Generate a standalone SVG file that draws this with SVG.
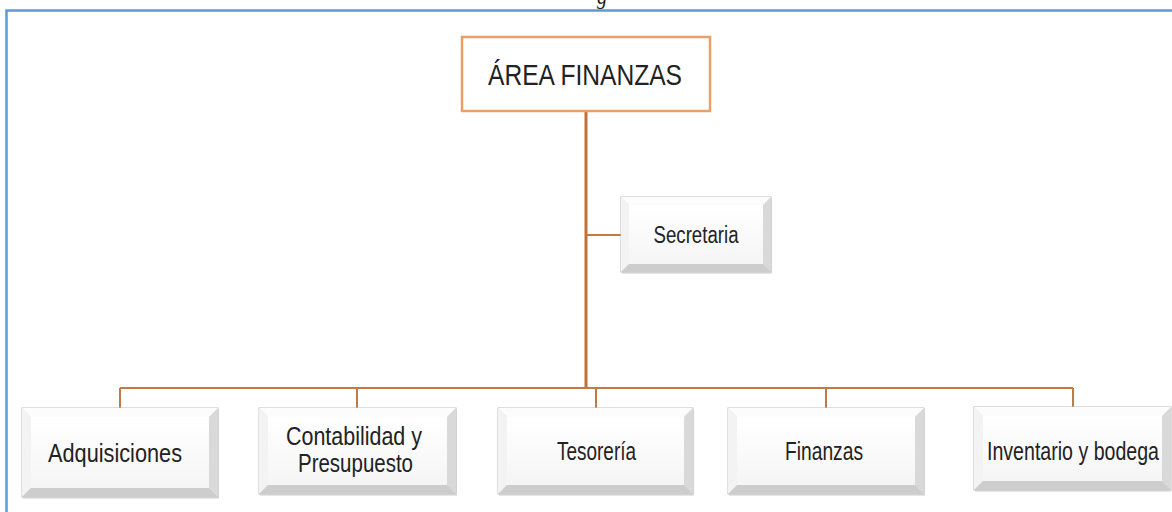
<svg xmlns="http://www.w3.org/2000/svg" width="1172" height="512" viewBox="0 0 1172 512">
<style>
.lbl{font-family:"Liberation Sans",Arial,sans-serif;font-weight:400;fill:#222222;text-anchor:middle}
.conn{fill:none;stroke:#c27a45;stroke-width:2}
.trunk{fill:none;stroke:#bf7038;stroke-width:3}
.sh{fill:#d6d6d6;opacity:.6}
.out{fill:#e4e4e4;stroke:#bdbdbd;stroke-width:1}
.bt{fill:#fcfcfc}
.bl{fill:#f3f3f3}
.br{fill:#d9d9d9}
.bb{fill:#cdcdcd}
.face{fill:url(#gFace)}
</style>
<defs>
<linearGradient id="gFace" x1="0" y1="0" x2="0" y2="1">
<stop offset="0" stop-color="#ffffff"/>
<stop offset="1" stop-color="#f5f5f5"/>
</linearGradient>
</defs>
<rect width="1172" height="512" fill="#ffffff"/>
<text x="597" y="4" font-family="Liberation Serif,serif" font-style="italic" font-size="20" fill="#222">g</text>
<path d="M6.5,512 V10.5 H1172" fill="none" stroke="#5b9bd5" stroke-width="2.5"/>

<g id="connectors">
<path class="trunk" d="M586,111 V388"/>
<path class="conn" d="M586,235 H621"/>
<path class="conn" d="M120,388 H1073"/>
<path class="conn" d="M120,388 V408 M357,388 V408 M596,388 V408 M826,388 V408 M1073,388 V407"/>
</g>

<g id="area-finanzas">
<rect x="462" y="37" width="248" height="74" fill="#ffffff" stroke="#e8a06a" stroke-width="2.5"/>
<text class="lbl" x="585" y="85" font-size="30" textLength="194" lengthAdjust="spacingAndGlyphs">ÁREA FINANZAS</text>
</g>

<g id="secretaria">
<rect class="sh" x="622" y="199" width="150" height="75"/>
<rect class="out" x="621" y="197" width="150" height="75"/>
<polygon class="bt" points="621,197 771,197 763,205 629,205"/>
<polygon class="bl" points="621,197 629,205 629,264 621,272"/>
<polygon class="br" points="771,197 771,272 763,264 763,205"/>
<polygon class="bb" points="621,272 629,264 763,264 771,272"/>
<rect class="face" x="629" y="205" width="134" height="59"/>
<text class="lbl" x="696" y="243" font-size="23" textLength="85" lengthAdjust="spacingAndGlyphs">Secretaria</text>
</g>

<g id="adquisiciones">
<rect class="sh" x="23" y="410" width="196" height="89"/>
<rect class="out" x="22" y="408" width="196" height="89"/>
<polygon class="bt" points="22,408 218,408 209,417 31,417"/>
<polygon class="bl" points="22,408 31,417 31,488 22,497"/>
<polygon class="br" points="218,408 218,497 209,488 209,417"/>
<polygon class="bb" points="22,497 31,488 209,488 218,497"/>
<rect class="face" x="31" y="417" width="178" height="71"/>
<text class="lbl" x="115" y="462" font-size="25" textLength="134" lengthAdjust="spacingAndGlyphs">Adquisiciones</text>
</g>

<g id="contabilidad">
<rect class="sh" x="260" y="410" width="197" height="86"/>
<rect class="out" x="259" y="408" width="197" height="86"/>
<polygon class="bt" points="259,408 456,408 447,417 268,417"/>
<polygon class="bl" points="259,408 268,417 268,485 259,494"/>
<polygon class="br" points="456,408 456,494 447,485 447,417"/>
<polygon class="bb" points="259,494 268,485 447,485 456,494"/>
<rect class="face" x="268" y="417" width="179" height="68"/>
<text class="lbl" x="354" y="445" font-size="25" textLength="136" lengthAdjust="spacingAndGlyphs">Contabilidad y</text>
<text class="lbl" x="355.5" y="472" font-size="25" textLength="115" lengthAdjust="spacingAndGlyphs">Presupuesto</text>
</g>

<g id="tesoreria">
<rect class="sh" x="499" y="410" width="195" height="86"/>
<rect class="out" x="498" y="408" width="195" height="86"/>
<polygon class="bt" points="498,408 693,408 684,417 507,417"/>
<polygon class="bl" points="498,408 507,417 507,485 498,494"/>
<polygon class="br" points="693,408 693,494 684,485 684,417"/>
<polygon class="bb" points="498,494 507,485 684,485 693,494"/>
<rect class="face" x="507" y="417" width="177" height="68"/>
<text class="lbl" x="596.5" y="460" font-size="25" textLength="79" lengthAdjust="spacingAndGlyphs">Tesorería</text>
</g>

<g id="finanzas">
<rect class="sh" x="729" y="410" width="196" height="86"/>
<rect class="out" x="728" y="408" width="196" height="86"/>
<polygon class="bt" points="728,408 924,408 915,417 737,417"/>
<polygon class="bl" points="728,408 737,417 737,485 728,494"/>
<polygon class="br" points="924,408 924,494 915,485 915,417"/>
<polygon class="bb" points="728,494 737,485 915,485 924,494"/>
<rect class="face" x="737" y="417" width="178" height="68"/>
<text class="lbl" x="824" y="460" font-size="25" textLength="78" lengthAdjust="spacingAndGlyphs">Finanzas</text>
</g>

<g id="inventario">
<rect class="sh" x="975" y="409" width="196" height="83"/>
<rect class="out" x="974" y="407" width="197" height="83"/>
<polygon class="bt" points="974,407 1171,407 1162,416 983,416"/>
<polygon class="bl" points="974,407 983,416 983,481 974,490"/>
<polygon class="br" points="1171,407 1171,490 1162,481 1162,416"/>
<polygon class="bb" points="974,490 983,481 1162,481 1171,490"/>
<rect class="face" x="983" y="416" width="179" height="65"/>
<text class="lbl" x="1073" y="460" font-size="25" textLength="172" lengthAdjust="spacingAndGlyphs">Inventario y bodega</text>
</g>
</svg>
